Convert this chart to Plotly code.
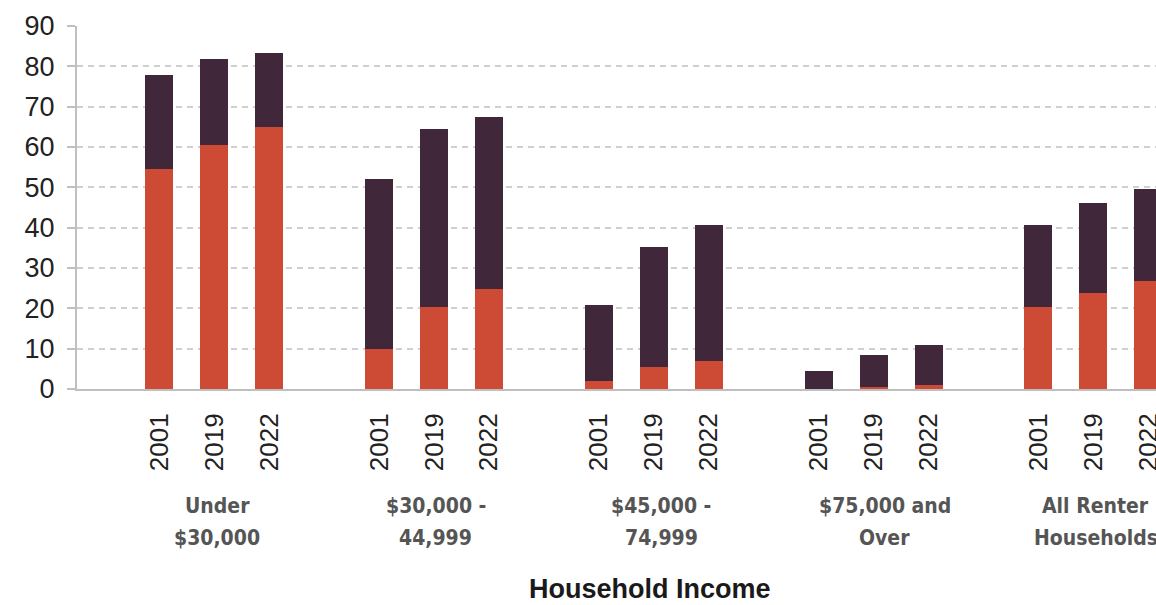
import plotly.graph_objects as go

# Share of renter households that are cost burdened, by income group and year (%)
groups = ["Under<br>$30,000", "$30,000 -<br>44,999", "$45,000 -<br>74,999",
          "$75,000 and<br>Over", "All Renter<br>Households"]
years = ["2001", "2019", "2022"]

severely_burdened = [54.5, 60.4, 64.9,
                     10.0, 20.4, 24.8,
                     2.0, 5.5, 7.0,
                     0.0, 0.6, 1.1,
                     20.4, 23.8, 26.8]
moderately_burdened = [23.3, 21.4, 18.3,
                       42.0, 44.0, 42.6,
                       18.9, 29.7, 33.7,
                       4.5, 7.9, 9.9,
                       20.3, 22.3, 22.8]

y_ticks = [0, 10, 20, 30, 40, 50, 60, 70, 80, 90]

RED = "#CD4A34"
PLUM = "#40273A"
GRID = "#CFCFCF"
AXIS = "#BFBFBF"

# Bars sit in consecutive slots, with one empty slot before each group
positions = []
tick_text = []
for g in range(len(groups)):
    for j, yr in enumerate(years):
        positions.append(4 * g + j + 1)
        tick_text.append(yr)
group_centers = [4 * g + 2 for g in range(len(groups))]
label_nudge = [0.05, 0.03, 0.13, 0.2, 0.04]

fig = go.Figure()
fig.add_trace(go.Bar(x=positions, y=severely_burdened, name="Severely Burdened",
                     marker=dict(color=RED, line=dict(width=0)), width=0.51))
fig.add_trace(go.Bar(x=positions, y=moderately_burdened, name="Moderately Burdened",
                     marker=dict(color=PLUM, line=dict(width=0)), width=0.51))

sans = "Liberation Sans, Arial, sans-serif"
y_font = dict(family=sans, size=27, color="#222222")
x_font = dict(family=sans, size=26, color="#222222")
group_font = dict(family="DejaVu Sans Condensed, Liberation Sans Narrow, Arial Narrow, sans-serif",
                  size=21, color="#555555", weight="bold")

fig.update_layout(
    barmode="stack",
    width=1156, height=605,
    margin=dict(l=77, r=0, t=26, b=216, autoexpand=False),
    paper_bgcolor="white", plot_bgcolor="white",
    showlegend=False,
    bargap=0,
)
fig.update_xaxes(
    range=[-0.5, 19.14], automargin=False,
    tickmode="array", tickvals=positions, ticktext=tick_text,
    tickangle=-90, tickfont=x_font, ticks="",
    ticklabelstandoff=12, ticklabeloverflow="allow",
    showgrid=False, zeroline=False,
    showline=True, linecolor=AXIS, linewidth=2,
)
fig.update_yaxes(
    range=[0, 90], automargin=False,
    tickmode="array", tickvals=y_ticks,
    tickfont=y_font,
    ticks="outside", ticklen=8, tickcolor=AXIS, tickwidth=2,
    ticklabelstandoff=7,
    showgrid=True, gridcolor=GRID, gridwidth=2, griddash="6px,5px",
    zeroline=False,
    showline=True, linecolor=AXIS, linewidth=2,
)

plot_h = 605 - 26 - 216
for name, cx, dx in zip(groups, group_centers, label_nudge):
    for k, line in enumerate(name.split("<br>")):
        y_px = 506 + 32 * k
        fig.add_annotation(x=cx + dx, xref="x", y=-(y_px - 389) / plot_h, yref="paper",
                           text=line, showarrow=False, font=group_font,
                           xanchor="center", yanchor="middle")

fig.add_annotation(x=(650 - 77) / 1079, xref="paper", y=-(589 - 389) / plot_h, yref="paper",
                   text="Household Income", showarrow=False,
                   font=dict(family=sans, size=27, color="#1A1A1A", weight="bold"),
                   xanchor="center", yanchor="middle")

fig.write_html("out.html")
